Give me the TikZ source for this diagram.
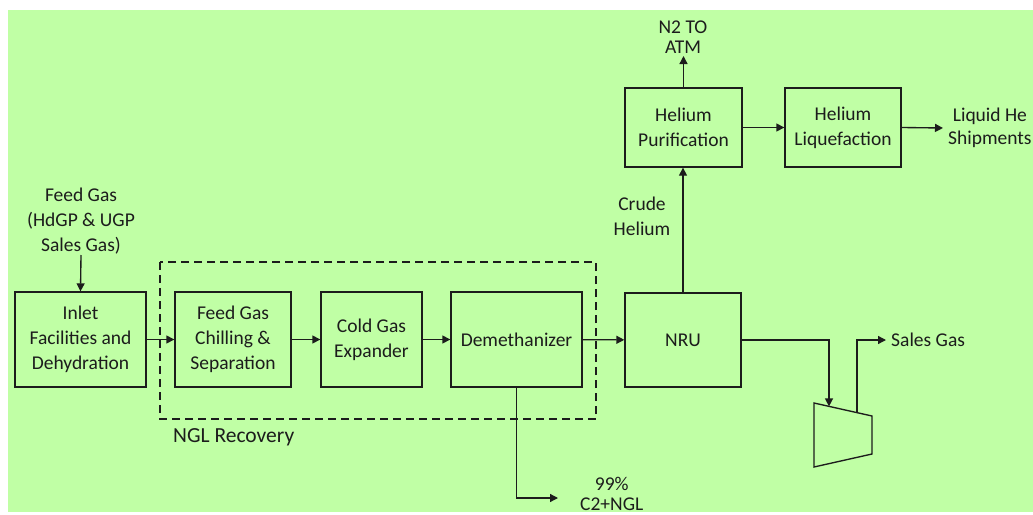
\documentclass[tikz,border=0pt]{standalone}
\usepackage{fontspec}
\setmainfont{Carlito}
\usetikzlibrary{arrows.meta,positioning}
\definecolor{bggreen}{HTML}{C0FFA5}
\definecolor{ink}{HTML}{1C1C1C}
\tikzset{
  box/.style={draw=ink, line width=1.35pt, align=center, inner sep=2pt,
              minimum height=95pt, text=ink, font=\fontsize{19.5}{25}\selectfont},
  flow/.style={-{Triangle[length=8pt,width=8pt]}, line width=1.35pt, ink},
  tag/.style={font=\fontsize{19.5}{25}\selectfont, text=ink, align=center, inner sep=2pt},
  tighttag/.style={tag, font=\fontsize{19.5}{20.5}\selectfont},
}

\begin{document}
\begin{tikzpicture}[x=1pt, y=-1pt]
  \useasboundingbox (0,0) rectangle (1033,514);
  \clip (0,0) rectangle (1033,514);
  \fill[white] (0,0) rectangle (1033,514);
  \fill[bggreen] (8,10) rectangle (1033,512);

  % process blocks
  \node[box, minimum width=131pt] (inlet) at (80.5,339.5) {Inlet\\Facilities and\\Dehydration};
  \node[box, minimum width=116pt] (chill) at (233,339.5) {Feed Gas\\Chilling \&\\Separation};
  \node[box, minimum width=101pt] (cold) at (371.5,339.5) {Cold Gas\\Expander};
  \node[box, minimum width=131pt] (demeth) at (516.5,339.5) {Demethanizer};
  \node[box, minimum width=116pt, minimum height=94pt] (nru) at (683,340) {NRU};
  \node[box, minimum width=117pt, minimum height=79pt] (hepur) at (683.5,127.5) {Helium\\Purification};
  \node[box, minimum width=116pt, minimum height=79pt] (heliq) at (843,127.5) {Helium\\Liquefaction};

  % NGL recovery envelope
  \draw[ink, line width=1.35pt, dash pattern=on 8pt off 5pt] (160,262) rectangle (596,419);
  \node[tag, font=\fontsize{21.5}{25}\selectfont, anchor=west] (nglrec) at (171,437) {NGL Recovery};

  % compressor
  \draw[ink, line width=1.35pt] (814,403) -- (872,416) -- (872,454) -- (814,467) -- cycle;
  \coordinate (compin) at (829,406.4);
  \coordinate (compout) at (857,412.6);

  % stream labels
  \node[tag, anchor=south, inner sep=1pt] (feed) at (81,255) {Feed Gas\\(HdGP \& UGP\\Sales Gas)};
  \node[tighttag, anchor=south] (n2) at (683,56) {N2 TO\\ATM};
  \node[tag] (crude) at (642,216) {Crude\\Helium};
  \node[tag, font=\fontsize{19.5}{22.5}\selectfont, anchor=west, inner xsep=5pt] (lhe) at (943,128) {Liquid He\\Shipments};
  \node[tag, anchor=west, inner sep=5pt] (sales) at (886,340) {Sales Gas};
  \coordinate (ngl) at (558,498);
  \node[tighttag, right=20pt of ngl, yshift=4pt] (c2ngl) {99\%\\C2+NGL};

  % streams
  \draw[flow] (feed.south) -- (inlet.north);
  \draw[flow] (inlet) -- (chill);
  \draw[flow] (chill) -- (cold);
  \draw[flow] (cold) -- (demeth);
  \draw[flow] (demeth) -- (nru);
  \draw[flow] (demeth.south) |- (ngl);
  \draw[flow] (nru.north) -- (nru.north |- hepur.south);
  \draw[flow] (hepur.north) -- (hepur.north |- n2.south);
  \draw[flow] (hepur) -- (heliq);
  \draw[flow] (heliq.east) -- (lhe.west);
  \draw[flow] (nru.east) -| (compin);
  \draw[flow] (compout) |- (sales.west);
\end{tikzpicture}
\end{document}
